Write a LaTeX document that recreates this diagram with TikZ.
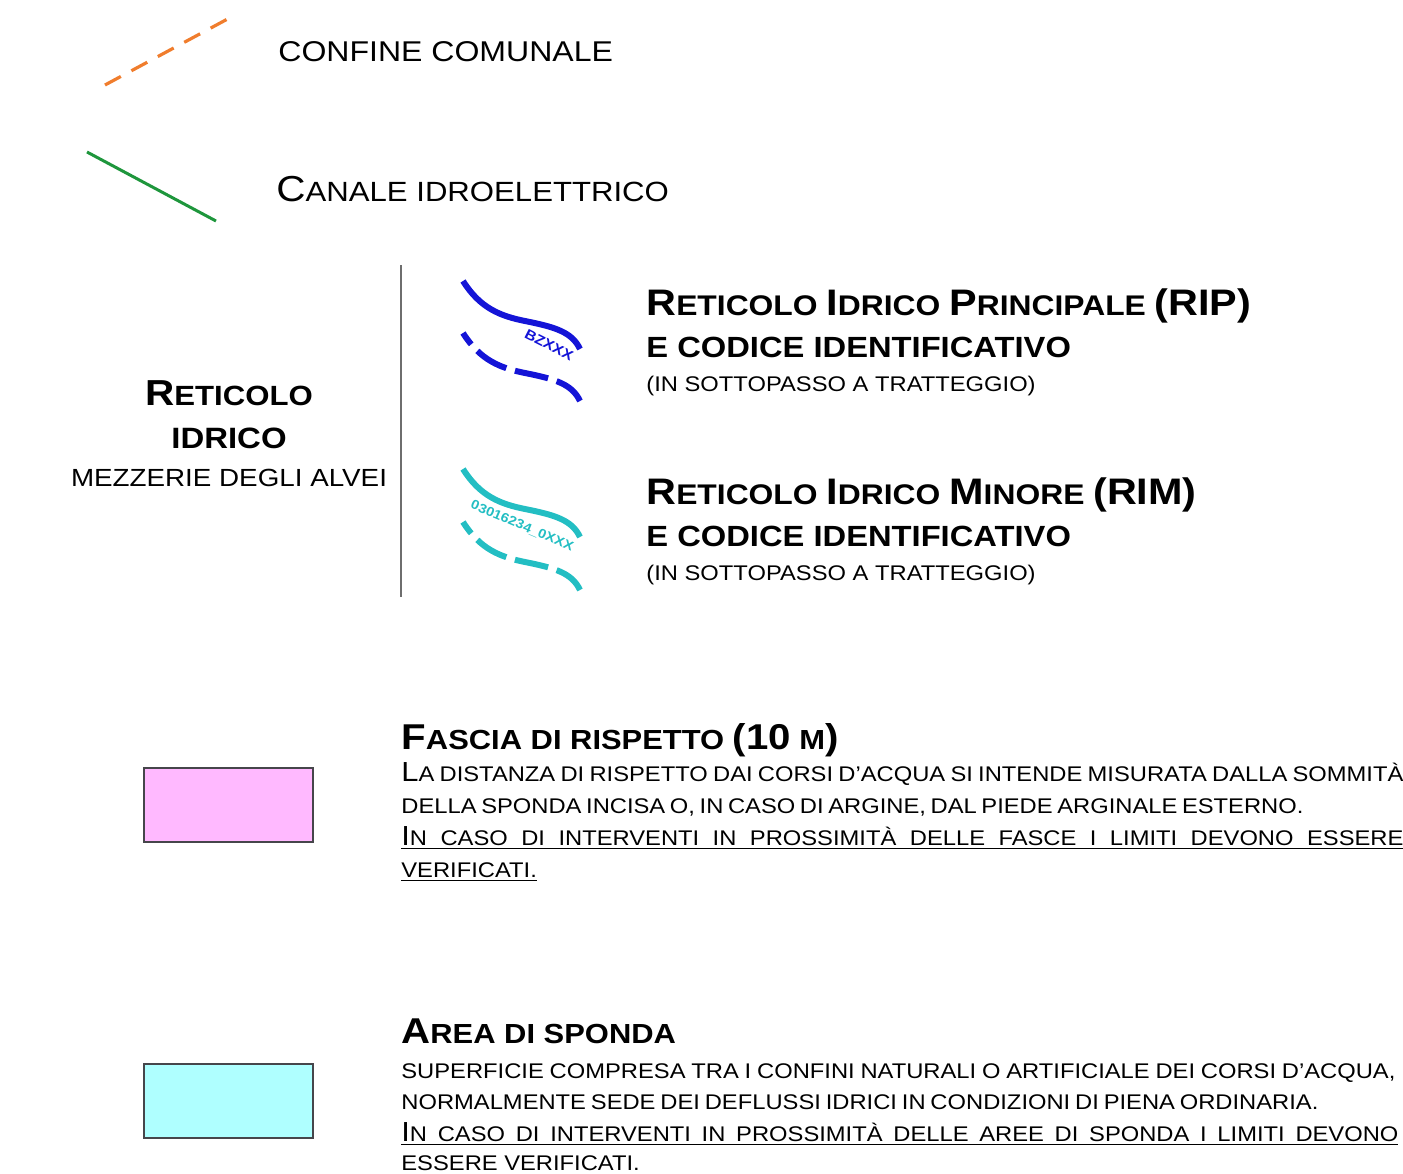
\documentclass[tikz,border=0pt]{standalone}
\usepackage{fontspec}
\usepackage{graphicx}
\usepackage{tikz}
\usetikzlibrary{positioning}
\setmainfont{Liberation Sans}
\newfontfamily\legfont[FakeStretch=1.12]{Liberation Sans}
\definecolor{confine}{RGB}{240,125,45}
\definecolor{canale}{RGB}{30,150,60}
\definecolor{ripblue}{RGB}{20,20,215}
\definecolor{rimcyan}{RGB}{35,190,195}
\definecolor{fasciapink}{RGB}{255,185,255}
\definecolor{spondacyan}{RGB}{175,255,255}
\definecolor{bordo}{RGB}{70,70,75}
\definecolor{separa}{RGB}{110,110,110}
\newcommand\iniz[1]{\scalebox{1.3}{#1}}
\tikzset{
  txt/.style={inner sep=0pt, anchor=base west, font={\legfont\fontsize{#1}{#1}\selectfont}},
  btxt/.style={inner sep=0pt, anchor=base west, font={\legfont\bfseries\fontsize{#1}{#1}\selectfont}},
  campo/.style={draw=bordo, line width=1pt, minimum width=84.5pt, minimum height=37pt, inner sep=0pt},
  fiume/.style={line width=3pt},
  sottop/.style={line width=3pt, dash pattern=on 17pt off 4.5pt, dash phase=10pt},
}

\begin{document}
\begin{tikzpicture}[x=0.5pt,y=-0.5pt]
\useasboundingbox (0,0) rectangle (1403,1173);

% confine e canale
\coordinate (cf1) at (105,85);
\coordinate (cf2) at (235,15);
\draw[confine, line width=1.6pt, dash pattern=on 9pt off 6pt] (cf1) -- (cf2);
\node[txt=14.3pt] (confine) at (278,61) {CONFINE COMUNALE};

\coordinate (cn1) at (87,152);
\coordinate (cn2) at (216,221);
\draw[canale, line width=1.5pt] (cn1) -- (cn2);
\node[txt=13.9pt] (canale) at (276,201) {\iniz{C}ANALE IDROELETTRICO};

% reticolo idrico
\coordinate (sep1) at (401,265);
\coordinate (sep2) at (401,597);
\draw[separa, line width=0.8pt] (sep1) -- (sep2);

\node[btxt=13.9pt, anchor=base] (ret) at (229,405) {\iniz{R}ETICOLO};
\node[btxt=14.7pt, anchor=base] (idr) at (229,448) {IDRICO};
\node[txt=12.4pt, anchor=base] (mezz) at (229,486) {MEZZERIE DEGLI ALVEI};

% RIP
\draw[ripblue, fiume] (463,281) .. controls (480,308) and (500,316) .. (525,321)
  .. controls (555,327) and (572,332) .. (580,349);
\draw[ripblue, sottop] (463,333) .. controls (480,360) and (500,368) .. (525,373)
  .. controls (555,379) and (572,384) .. (580,401);
\node[btxt=7pt, ripblue, anchor=center, rotate=-27] (ripcod) at (549,345) {BZXXX};

\node[btxt=14.2pt] (ripT) at (646,315) {\iniz{R}ETICOLO \iniz{I}DRICO \iniz{P}RINCIPALE \iniz{(RIP)}};
\node[btxt=14.6pt] (ripC) at (646,357) {E CODICE IDENTIFICATIVO};
\node[txt=10.6pt] (ripS) at (646,391) {(IN SOTTOPASSO A TRATTEGGIO)};

% RIM
\draw[rimcyan, fiume] (463,469) .. controls (480,496) and (500,504) .. (525,509)
  .. controls (555,515) and (572,520) .. (580,537);
\draw[rimcyan, sottop] (463,522) .. controls (480,549) and (500,557) .. (525,562)
  .. controls (555,568) and (572,573) .. (580,590);
\node[btxt=6.5pt, rimcyan, anchor=center, rotate=-23] (rimcod) at (522,526) {03016234\_0XXX};

\node[btxt=14.2pt] (rimT) at (646,504) {\iniz{R}ETICOLO \iniz{I}DRICO \iniz{M}INORE \iniz{(RIM)}};
\node[btxt=14.6pt] (rimC) at (646,546) {E CODICE IDENTIFICATIVO};
\node[txt=10.6pt] (rimS) at (646,580) {(IN SOTTOPASSO A TRATTEGGIO)};

% fascia di rispetto
\node[campo, fill=fasciapink] (fascia) at (228.5,805) {};
\node[btxt=13.8pt] (fasciaT) at (401,749) {\iniz{F}ASCIA DI RISPETTO \iniz{(10} M\iniz{)}};
\node[txt=10.6pt] (f1) at (401,781) {\makebox[501pt][s]{\iniz{L}A DISTANZA DI RISPETTO DAI CORSI D’ACQUA SI INTENDE MISURATA DALLA SOMMITÀ}};
\node[txt=10.6pt] (f2) at (401,813) {\makebox[451pt][s]{DELLA SPONDA INCISA O, IN CASO DI ARGINE, DAL PIEDE ARGINALE ESTERNO.}};
\node[txt=10.6pt] (f3) at (401,845) {\underline{\makebox[501pt][s]{\iniz{I}N CASO DI INTERVENTI IN PROSSIMITÀ DELLE FASCE I LIMITI DEVONO ESSERE}}};
\node[txt=10.6pt] (f4) at (401,877) {\underline{VERIFICATI.}};

% area di sponda
\node[campo, fill=spondacyan] (sponda) at (228.5,1100.5) {};
\node[btxt=13.8pt] (spondaT) at (401,1043) {\iniz{A}REA DI SPONDA};
\node[txt=10.6pt] (a1) at (401,1078) {\makebox[497pt][s]{SUPERFICIE COMPRESA TRA I CONFINI NATURALI O ARTIFICIALE DEI CORSI D’ACQUA,}};
\node[txt=10.6pt] (a2) at (401,1109) {\makebox[458.5pt][s]{NORMALMENTE SEDE DEI DEFLUSSI IDRICI IN CONDIZIONI DI PIENA ORDINARIA.}};
\node[txt=10.6pt] (a3) at (401,1141) {\underline{\makebox[498.5pt][s]{\iniz{I}N CASO DI INTERVENTI IN PROSSIMITÀ DELLE AREE DI SPONDA I LIMITI DEVONO}}};
\node[txt=10.6pt] (a4) at (401,1170) {ESSERE VERIFICATI.};
\end{tikzpicture}
\end{document}
